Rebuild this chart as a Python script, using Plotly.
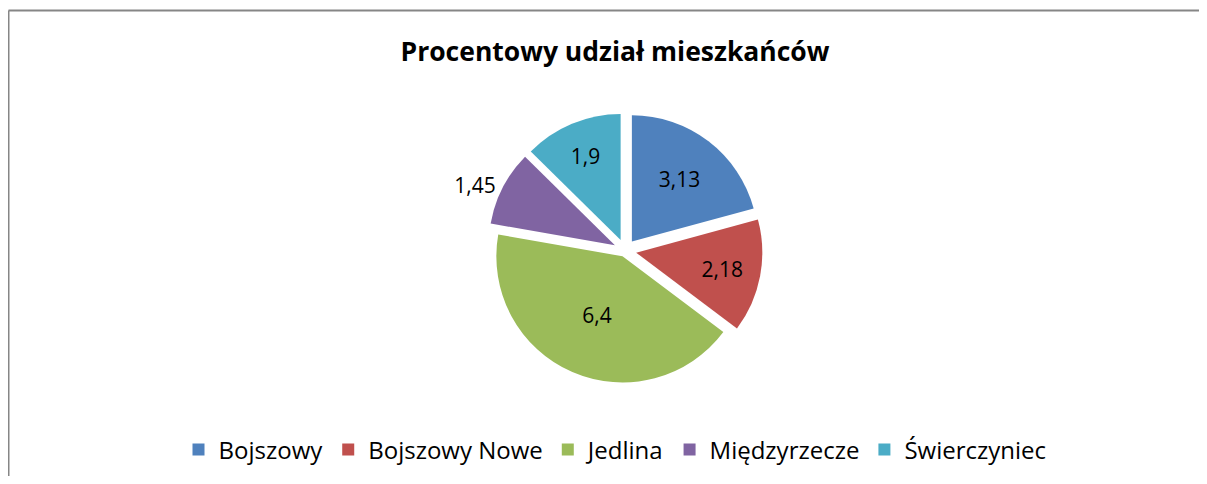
import plotly.graph_objects as go

categories = ["Bojszowy", "Bojszowy Nowe", "Jedlina", "Międzyrzecze", "Świerczyniec"]
values = [3.13, 2.18, 6.4, 1.45, 1.9]
value_labels = ["3,13", "2,18", "6,4", "1,45", "1,9"]
colors = ["#4F81BD", "#C0504D", "#9BBB59", "#8064A2", "#4BACC6"]
text_positions = ["inside", "inside", "inside", "outside", "inside"]

# page has an 8px body margin; figure coordinates = page coordinates - 8
W, H = 1199, 468
OFF = 8

def fy(page_y):
    return 1 - (page_y - OFF) / H

def fx(page_x):
    return (page_x - OFF) / W

FONT = "Open Sans, Liberation Sans, sans-serif"

fig = go.Figure(go.Pie(
    labels=categories,
    values=values,
    text=value_labels,
    textinfo="text",
    textposition=text_positions,
    insidetextorientation="horizontal",
    textfont=dict(family=FONT, size=21, color="#000000"),
    marker=dict(colors=colors, line=dict(color="#FFFFFF", width=0)),
    pull=[0.09, 0.09, 0.05, 0.09, 0.09],
    sort=False,
    direction="clockwise",
    rotation=0,
    domain=dict(x=[fx(470), fx(780)], y=[fy(388), fy(113)]),
    hoverinfo="label+value",
))

fig.update_layout(
    width=W, height=H,
    margin=dict(l=0, r=0, t=0, b=0),
    paper_bgcolor="#FFFFFF",
    plot_bgcolor="#FFFFFF",
    title=dict(
        text="<b>Procentowy udział mieszkańców</b>",
        x=fx(615), xanchor="center",
        y=fy(52), yanchor="middle",
        font=dict(family=FONT, size=26.5, color="#000000"),
    ),
    showlegend=True,
    legend=dict(
        orientation="h",
        x=fx(615), xanchor="center",
        y=fy(450), yanchor="middle",
        font=dict(family=FONT, size=24, color="#000000"),
        itemwidth=30,
        traceorder="normal",
    ),
    shapes=[
        dict(type="line", xref="paper", yref="paper",
             x0=fx(8.5), x1=1.05, y0=fy(10.5), y1=fy(10.5),
             line=dict(color="#868686", width=2)),
        dict(type="line", xref="paper", yref="paper",
             x0=fx(8.5), x1=fx(8.5), y0=fy(10.5), y1=-0.05,
             line=dict(color="#868686", width=2)),
    ],
)

fig.write_html("out.html")
